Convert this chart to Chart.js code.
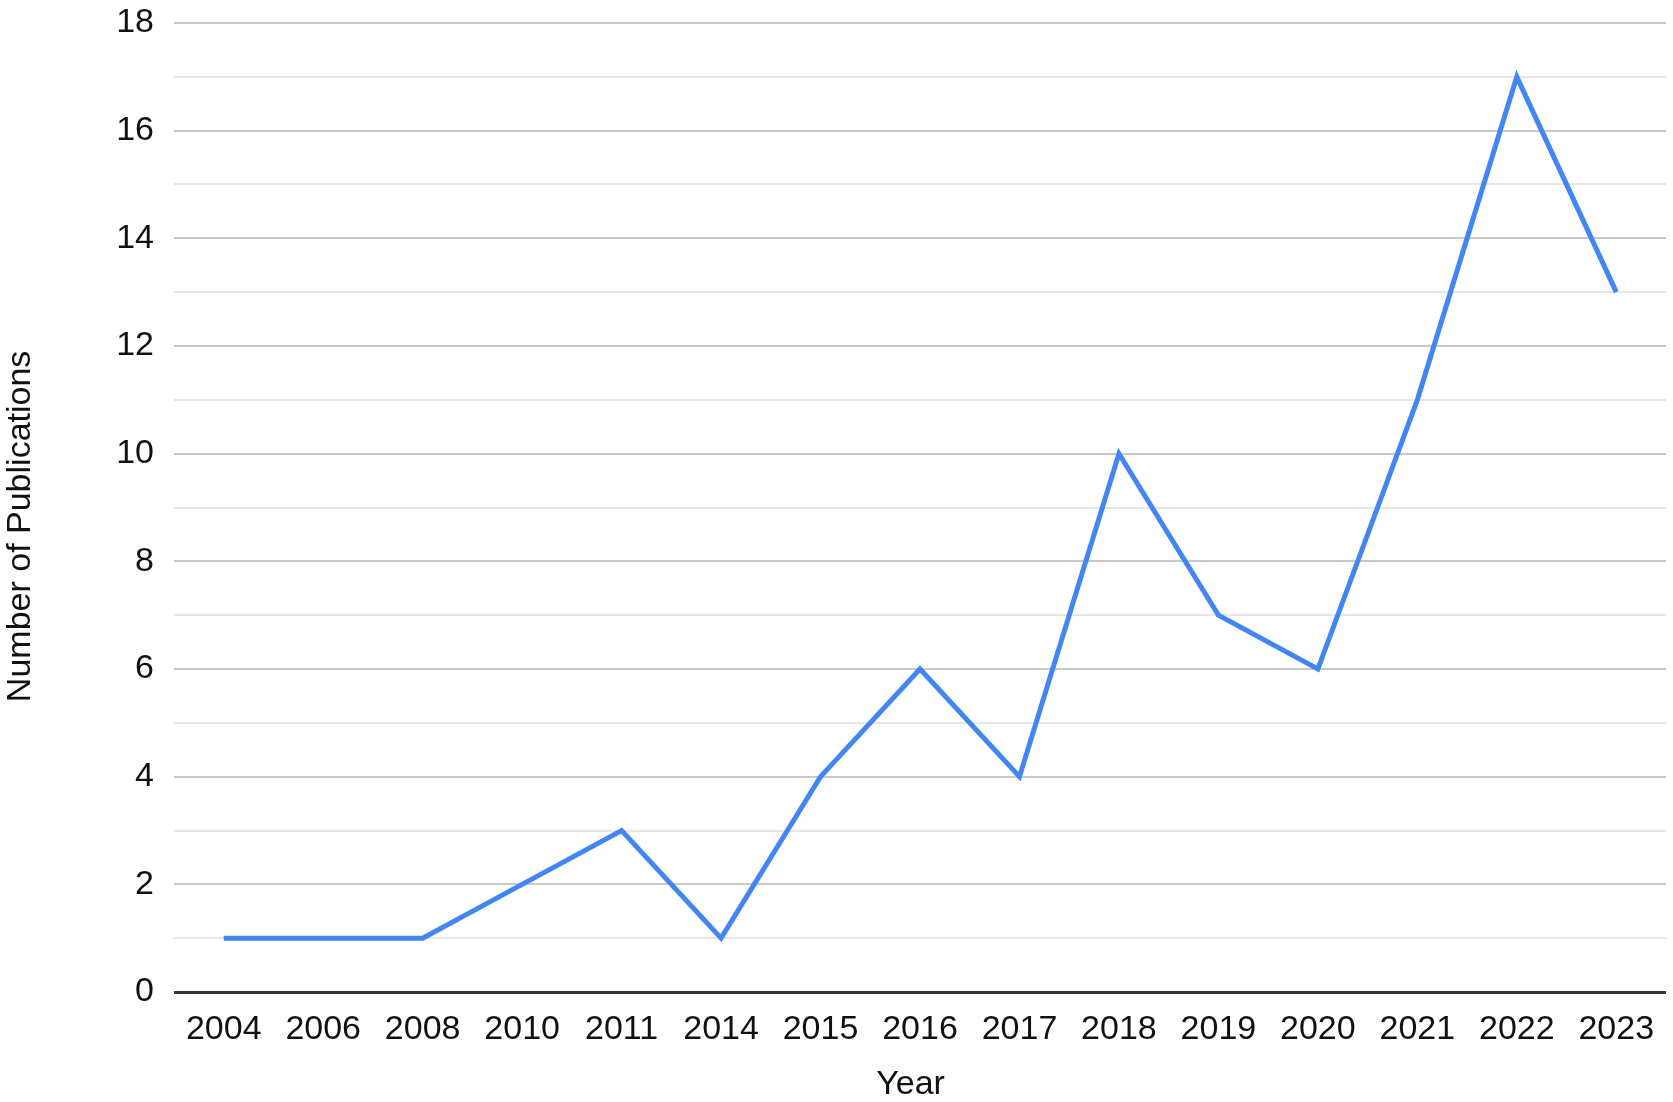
<!DOCTYPE html>
<html>
<head>
<meta charset="utf-8">
<script src="https://cdn.jsdelivr.net/npm/chart.js@4"></script>
<style>
  html, body { margin: 0; padding: 0; background: #fff; }
  #wrap { width: 1673px; height: 1102px; }
</style>
</head>
<body>
<div id="wrap"><canvas id="chart" width="1673" height="1102"></canvas></div>
<script>
// ---- Data ----
const years = ["2004", "2006", "2008", "2010", "2011", "2014", "2015", "2016",
               "2017", "2018", "2019", "2020", "2021", "2022", "2023"];
const publications = [1, 1, 1, 2, 3, 1, 4, 6, 4, 10, 7, 6, 11, 17, 13];
const yMax = 18;

const FONT = "'Liberation Sans', Arial, sans-serif";
const LINE_BLUE = "#4285f4";

// grid colour: dark baseline, mid grey on even values, faint on odd
function gridColour(ctx) {
  const v = ctx.tick ? ctx.tick.value : 0;
  if (v === 0) return "#333333";
  return v % 2 === 0 ? "#c8c8c8" : "#e6e6e6";
}

new Chart(document.getElementById("chart"), {
  type: "line",
  data: {
    labels: years,
    datasets: [{
      label: "Number of Publications",
      data: publications,
      borderColor: LINE_BLUE,
      borderWidth: 5,
      pointRadius: 0,
      tension: 0,
      fill: false,
    }],
  },
  options: {
    responsive: false,
    animation: false,
    layout: { padding: { top: 23, right: 7, left: 0, bottom: 0 } },
    plugins: {
      legend: { display: false },
      tooltip: { enabled: false },
    },
    scales: {
      x: {
        offset: true,
        grid: { display: false, offset: true },
        border: { display: false },
        ticks: {
          color: "#111",
          font: { family: FONT, size: 34 },
          padding: 9,
          maxRotation: 0,
          autoSkip: false,
        },
        title: {
          display: true,
          text: "Year  ", // trailing spaces nudge it slightly left, as in the original
          color: "#111",
          font: { family: FONT, size: 34, lineHeight: 1 },
          padding: { top: 0, bottom: 0 },
        },
        afterFit(scale) { scale.height = 1102 - 992; },
      },
      y: {
        min: 0,
        max: yMax,
        grid: {
          color: gridColour,
          lineWidth: (ctx) => (ctx.tick && ctx.tick.value === 0 ? 3 : 2),
          drawTicks: false,
        },
        border: { display: false },
        ticks: {
          stepSize: 1,
          color: "#111",
          font: { family: FONT, size: 34 },
          padding: 20,
          callback: (v) => (v % 2 === 0 ? String(v) : ""),
        },
        title: {
          display: true,
          text: "Number of Publications    ", // padded so it sits a bit lower
          color: "#111",
          font: { family: FONT, size: 34 },
          padding: { top: 0, bottom: 0 },
        },
        afterFit(scale) {
          scale.width = 174;
          scale.paddingTop = 0;
          scale.paddingBottom = 0;
        },
      },
    },
  },
});
</script>
</body>
</html>
